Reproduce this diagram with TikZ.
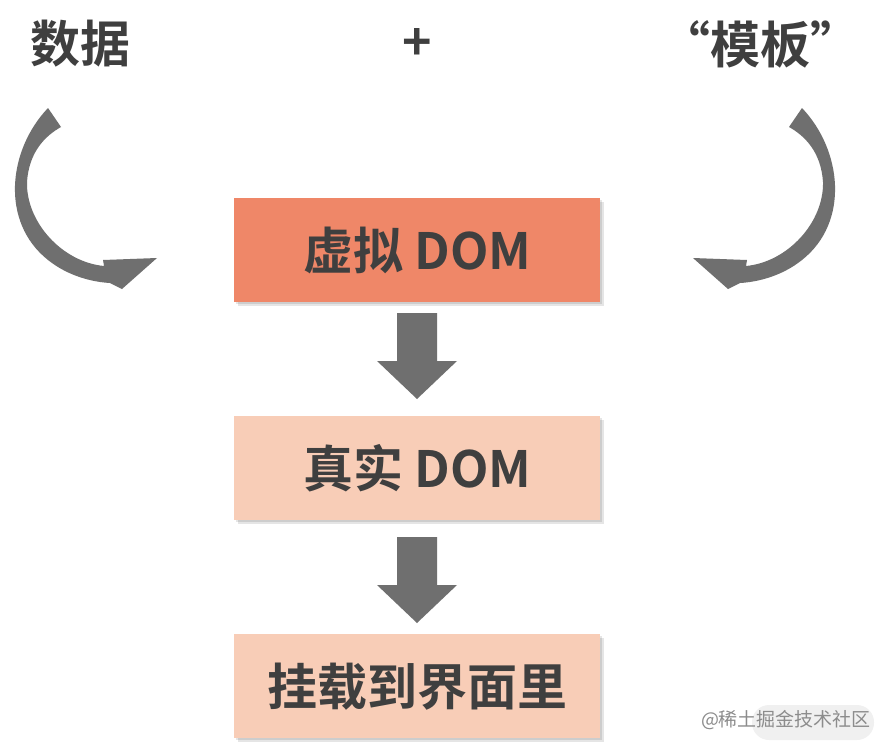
\documentclass[tikz,border=0pt]{standalone}
\usepackage{fontspec}
\newfontfamily\cjk{Noto Sans CJK SC}[BoldFont={Noto Sans CJK SC Bold}]
\definecolor{txt}{HTML}{3F3F3F}
\definecolor{salmon}{HTML}{EF8768}
\definecolor{peach}{HTML}{F8CDB7}
\definecolor{arrowgray}{HTML}{6F6F6F}
\tikzset{
  lbl/.style={font=\cjk\bfseries\fontsize{50}{50}\selectfont, text=txt, inner sep=0pt},
  stepbox/.style={minimum width=366pt, minimum height=104pt, inner sep=0pt, font=\cjk\bfseries\fontsize{50}{50}\selectfont, text=txt},
  shadowbox/.style={fill=black, opacity=0.10},
}
\begin{document}
\begin{tikzpicture}[x=1pt,y=-1pt]
\useasboundingbox (0,0) rectangle (886,752);
\fill[white] (0,0) rectangle (886,752);

% top labels
\node[lbl] (data) at (80,44) {数据};
\node[lbl] (plus) at (417,44) {+};
\node[lbl] (tmpl) at (760,44) {“模板”};

% boxes with shadows
\foreach \y in {198,416,634}{
  \fill[shadowbox] (238,\y+4) rectangle (604,\y+108);
  \fill[shadowbox] (236,\y+2) rectangle (602,\y+106);
}
\node[stepbox, fill=salmon, anchor=north west] (vdom) at (234,198) {虚拟 DOM};
\node[stepbox, fill=peach, anchor=north west] (rdom) at (234,416) {真实 DOM};
\node[stepbox, fill=peach, anchor=north west] (mount) at (234,634) {挂载到界面里};

% down arrows
\coordinate (a1) at (417,313);
\coordinate (a2) at (417,537);
\foreach \c in {a1,a2}{
  \fill[arrowgray] (\c) ++(-20,0) -- ++(40,0) -- ++(0,48) -- ++(20,0)
    -- ++(-40,38) -- ++(-40,-38) -- ++(20,0) -- cycle;
}

% curved arrows
\newcommand{\curvedarrow}{%
  \fill[arrowgray] (48,108) .. controls (8,150) and (0,222) .. (48,260)
     .. controls (68,276) and (92,282) .. (110,283)
     -- (122,289) -- (157,258) -- (103,260) -- (104,266)
     .. controls (62,262) and (26,222) .. (27,182)
     .. controls (29,152) and (45,136) .. (61,127) -- cycle;}
\curvedarrow
\begin{scope}[xshift=850pt, xscale=-1]
\curvedarrow
\end{scope}

% watermark
\fill[black, opacity=0.06, rounded corners=17pt] (752,705) rectangle (874,740);
\node[font=\cjk\fontsize{19}{19}\selectfont, text=black!45, inner sep=0pt] (wm) at (786,720) {@稀土掘金技术社区};
\end{tikzpicture}
\end{document}
